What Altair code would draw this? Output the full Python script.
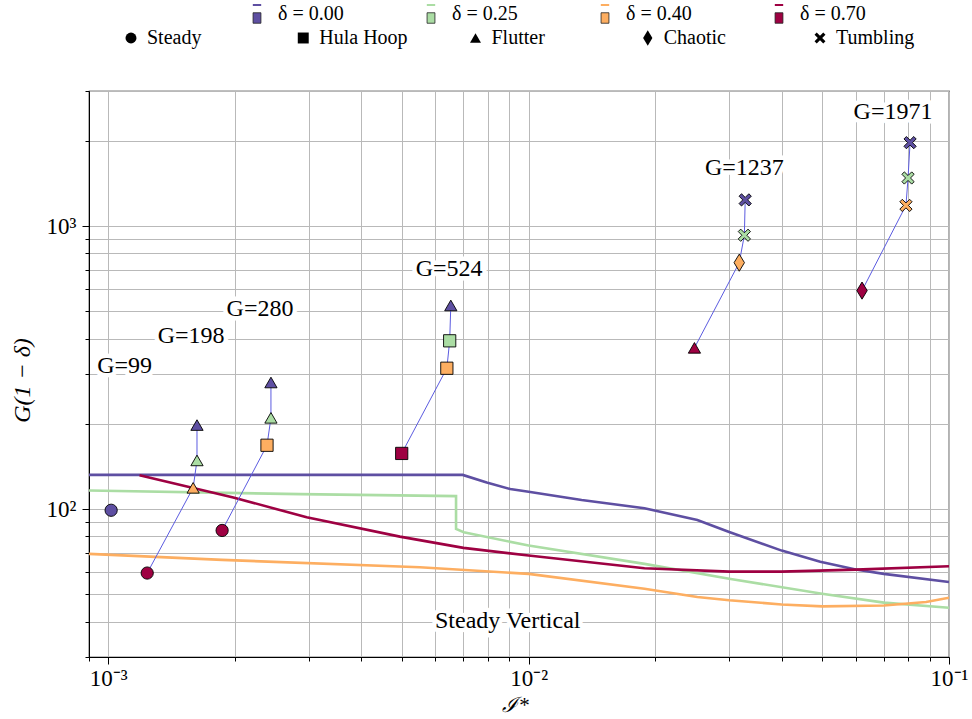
import altair as alt
import pandas as pd

# ---------------- categories ----------------
delta_values = [0.00, 0.25, 0.40, 0.70]
delta_labels = ["δ = 0.00", "δ = 0.25", "δ = 0.40", "δ = 0.70"]
delta_colors = ["#5e4fa2", "#abdda4", "#fdae61", "#9e0142"]
regimes = ["Steady", "Hula Hoop", "Flutter", "Chaotic", "Tumbling"]

# ---------------- stability boundary curves (I*, G(1-δ)) ----------------
curve_d000_x = [9.0e-4, 6.97e-3, 7.95e-3, 9.04e-3, 1.0e-2, 1.337e-2, 1.886e-2, 2.52e-2, 3.0e-2, 4.0e-2, 4.94e-2, 6.0e-2, 7.0e-2, 1.0e-1]
curve_d000_y = [132, 132, 124.2, 117.6, 115.1, 107.6, 100.6, 91.5, 83.0, 71.3, 65.1, 61.1, 59.0, 55.2]
curve_d025_x = [9.0e-4, 2.86e-3, 6.72e-3, 6.72e-3, 7.01e-3, 1.0e-2, 1.886e-2, 3.0e-2, 4.99e-2, 7.0e-2, 1.0e-1]
curve_d025_y = [116.2, 112.9, 111.1, 85.0, 82.8, 74.3, 64.0, 56.7, 50.2, 46.7, 44.8]
curve_d040_x = [9.0e-4, 1.866e-3, 5.51e-3, 1.0e-2, 1.886e-2, 2.52e-2, 3.0e-2, 4.0e-2, 5.0e-2, 7.0e-2, 8.82e-2, 1.0e-1]
curve_d040_y = [69.4, 66.1, 62.3, 59.0, 52.3, 48.9, 47.6, 46.0, 45.3, 45.6, 46.9, 48.6]
curve_d070_x = [1.187e-3, 1.984e-3, 2.965e-3, 4.94e-3, 7.0e-3, 1.0e-2, 1.886e-2, 3.0e-2, 4.0e-2, 6.0e-2, 1.0e-1]
curve_d070_y = [131.7, 109.9, 93.5, 79.9, 72.9, 68.5, 61.8, 60.1, 60.1, 61.1, 62.8]

# ---------------- simulation points ----------------
pt_G = [99, 198, 198, 198, 198, 280, 280, 280, 280, 524, 524, 524, 524,
        1237, 1237, 1237, 1237, 1971, 1971, 1971, 1971]
pt_delta = [0.00, 0.70, 0.40, 0.25, 0.00, 0.70, 0.40, 0.25, 0.00, 0.70, 0.40, 0.25, 0.00,
            0.70, 0.40, 0.25, 0.00, 0.70, 0.40, 0.25, 0.00]
pt_I = [1.016e-3, 1.238e-3, 1.592e-3, 1.626e-3, 1.626e-3,
        1.866e-3, 2.386e-3, 2.438e-3, 2.438e-3,
        4.99e-3, 6.39e-3, 6.49e-3, 6.53e-3,
        2.48e-2, 3.17e-2, 3.26e-2, 3.275e-2,
        6.21e-2, 7.90e-2, 7.99e-2, 8.08e-2]
pt_regime = ["Steady", "Steady", "Flutter", "Flutter", "Flutter",
             "Steady", "Hula Hoop", "Flutter", "Flutter",
             "Hula Hoop", "Hula Hoop", "Hula Hoop", "Flutter",
             "Flutter", "Chaotic", "Tumbling", "Tumbling",
             "Chaotic", "Tumbling", "Tumbling", "Tumbling"]

# ---------------- annotations ----------------
ann_text = ["G=99", "G=198", "G=280", "G=524", "G=1237", "G=1971", "Steady Vertical"]
ann_x = [1.094e-3, 1.575e-3, 2.296e-3, 6.47e-3, 3.26e-2, 7.36e-2, 8.92e-3]
ann_y = [319, 408, 508, 704, 1607, 2530, 40.3]

# ---------------- build tables ----------------
rows = []
for lab, xs, ys in zip(delta_labels,
                       [curve_d000_x, curve_d025_x, curve_d040_x, curve_d070_x],
                       [curve_d000_y, curve_d025_y, curve_d040_y, curve_d070_y]):
    for i, (a, b) in enumerate(zip(xs, ys)):
        rows.append({"I": a, "Gd": b, "label": lab, "idx": i})
curves = pd.DataFrame(rows)

lab_of = dict(zip(delta_values, delta_labels))
pts = pd.DataFrame({"G": pt_G, "delta": pt_delta, "I": pt_I, "regime": pt_regime})
pts["Gd"] = pts["G"] * (1 - pts["delta"])
pts["label"] = [lab_of[d] for d in pts["delta"]]

ann = pd.DataFrame({"text": ann_text, "I": ann_x, "Gd": ann_y})

leg_delta = pd.DataFrame({"label": delta_labels, "slot1": list(range(len(delta_labels)))})
leg_regime = pd.DataFrame({"regime": regimes, "slot2": list(range(len(regimes)))})

# ---------------- scales / axes ----------------
FONT = "Liberation Serif"
xscale = alt.Scale(type="log", domain=[9e-4, 0.1], nice=False)
yscale = alt.Scale(type="log", domain=[30, 3000], nice=False)

x_ticks = [round(k * 10.0 ** e, 8) for e in (-4, -3, -2) for k in range(1, 10)]
x_ticks = [v for v in x_ticks if 8.99e-4 <= v <= 0.1001] + [0.1]
y_ticks = [k * 10 ** e for e in (1, 2, 3) for k in range(1, 10)]
y_ticks = [v for v in y_ticks if 30 <= v <= 3000]

is_major = "abs(log(datum.value)/LN10 - round(log(datum.value)/LN10)) < 1e-6"
ex = "round(log(datum.value)/LN10)"

x_axis = alt.Axis(
    values=x_ticks,
    labelExpr=f"{is_major} ? '10' + ({ex} == -3 ? '⁻³' : {ex} == -2 ? '⁻²' : '⁻¹') : ''",
    grid=True, gridColor="#b9b9b9", gridWidth=1,
    tickColor="black", tickWidth=1,
    tickSize={"condition": {"test": is_major, "value": 7}, "value": 4},
    labelFont=FONT, labelFontSize=23, labelColor="black", labelPadding=3,
    labelFlush=False, labelOverlap=False, labelBound=False,
    domainColor="black", domainWidth=1,
    title="ℐ*", titleFont=FONT, titleFontSize=21, titleFontStyle="italic",
    titleFontWeight="normal", titleColor="black",
    titleX=426, titleY=48, titleBaseline="middle", titleAlign="center",
)
y_axis = alt.Axis(
    values=y_ticks,
    labelExpr=f"{is_major} ? '10' + ({ex} == 2 ? '²' : '³') : ''",
    grid=True, gridColor="#b9b9b9", gridWidth=1,
    tickColor="black", tickWidth=1,
    tickSize={"condition": {"test": is_major, "value": 7}, "value": 4},
    labelFont=FONT, labelFontSize=23, labelColor="black", labelPadding=6,
    labelFlush=False, labelOverlap=False, labelBound=False,
    domainColor="black", domainWidth=1,
    title="G(1 − δ)", titleFont=FONT, titleFontSize=24, titleFontStyle="italic",
    titleFontWeight="normal", titleColor="black",
    titleX=-67, titleY=289, titleAngle=270, titleBaseline="middle", titleAlign="center",
)

X = alt.X("I:Q", scale=xscale, axis=x_axis)
Y = alt.Y("Gd:Q", scale=yscale, axis=y_axis)

color_scale = alt.Scale(domain=delta_labels, range=delta_colors)
color_enc = alt.Color("label:N", scale=color_scale, legend=None)

x_path = "M-1,-0.6L-0.6,-1L0,-0.4L0.6,-1L1,-0.6L0.4,0L1,0.6L0.6,1L0,0.4L-0.6,1L-1,0.6L-0.4,0Z"
diamond_path = "M0,-1.4L0.85,0L0,1.4L-0.85,0Z"
shape_scale = alt.Scale(domain=regimes,
                        range=["circle", "square", "triangle-up", diamond_path, x_path])
shape_enc = alt.Shape("regime:N", scale=shape_scale, legend=None)

# ---------------- main plot ----------------
curve_layer = alt.Chart(curves).mark_line(strokeWidth=2.6, clip=True).encode(
    x=X, y=Y, color=color_enc, order=alt.Order("idx:Q"), detail="label:N"
)
conn_layer = alt.Chart(pts).transform_filter("datum.G > 100").mark_line(
    color="#5b5be0", strokeWidth=1, clip=True
).encode(x=X, y=Y, detail="G:N", order=alt.Order("Gd:Q"))
pt_layer = alt.Chart(pts).mark_point(
    filled=True, size=150, stroke="black", strokeWidth=0.9, opacity=1
).encode(x=X, y=Y, color=color_enc, shape=shape_enc)
ann_bg = alt.Chart(ann).mark_text(
    font=FONT, fontSize=24, color="white", stroke="white", strokeWidth=9,
    strokeJoin="round", baseline="middle", align="center"
).encode(x=X, y=Y, text="text:N")
ann_fg = alt.Chart(ann).mark_text(
    font=FONT, fontSize=24, color="black", baseline="middle", align="center"
).encode(x=X, y=Y, text="text:N")

main = alt.layer(curve_layer, conn_layer, pt_layer, ann_bg, ann_fg).properties(
    width=860, height=566,
    view=alt.ViewConfig(stroke="black", strokeWidth=1.2),
)

# ---------------- legend panel (above the plot) ----------------
LX1 = alt.X("slot1:Q", scale=alt.Scale(domain=[0, 3], range=[168, 690]), axis=None)
LX2 = alt.X("slot2:Q", scale=alt.Scale(domain=[0, 4], range=[42, 731]), axis=None)
lcolor = alt.Color("label:N", scale=color_scale, legend=None)

leg_line = alt.Chart(leg_delta).mark_point(
    shape="M-1,0L1,0", size=70, strokeWidth=2, opacity=1, filled=False
).encode(x=LX1, y=alt.value(5), color=lcolor)
leg_patch = alt.Chart(leg_delta).mark_point(
    shape="M-0.75,-1L0.75,-1L0.75,1L-0.75,1Z", size=110, filled=True,
    stroke="#222222", strokeWidth=0.8, opacity=1
).encode(x=LX1, y=alt.value(18), color=lcolor)
leg_text1 = alt.Chart(leg_delta).mark_text(
    font=FONT, fontSize=20, align="left", baseline="middle", dx=21, color="black"
).encode(x=LX1, y=alt.value(14), text="label:N")
row1 = alt.layer(leg_line, leg_patch, leg_text1)

leg_sym = alt.Chart(leg_regime).mark_point(
    filled=True, size=120, color="black", opacity=1
).encode(x=LX2, y=alt.value(38),
         shape=alt.Shape("regime:N", scale=shape_scale, legend=None))
leg_text2 = alt.Chart(leg_regime).mark_text(
    font=FONT, fontSize=20, align="left", baseline="middle", dx=16, color="black"
).encode(x=LX2, y=alt.value(38), text="regime:N")
row2 = alt.layer(leg_sym, leg_text2)

legend_panel = alt.layer(row1, row2).resolve_scale(x="independent").properties(
    width=860, height=50,
    view=alt.ViewConfig(stroke="transparent", strokeWidth=0),
)

chart = alt.vconcat(legend_panel, main, spacing=29).resolve_scale(
    x="independent", y="independent"
).properties(
    autosize=alt.AutoSizeParams(type="pad"),
    padding={"left": 9, "top": 0, "right": 0, "bottom": 0},
    background="white",
).configure(font=FONT)

chart.save("out.html", embed_options={"renderer": "svg", "actions": False})
